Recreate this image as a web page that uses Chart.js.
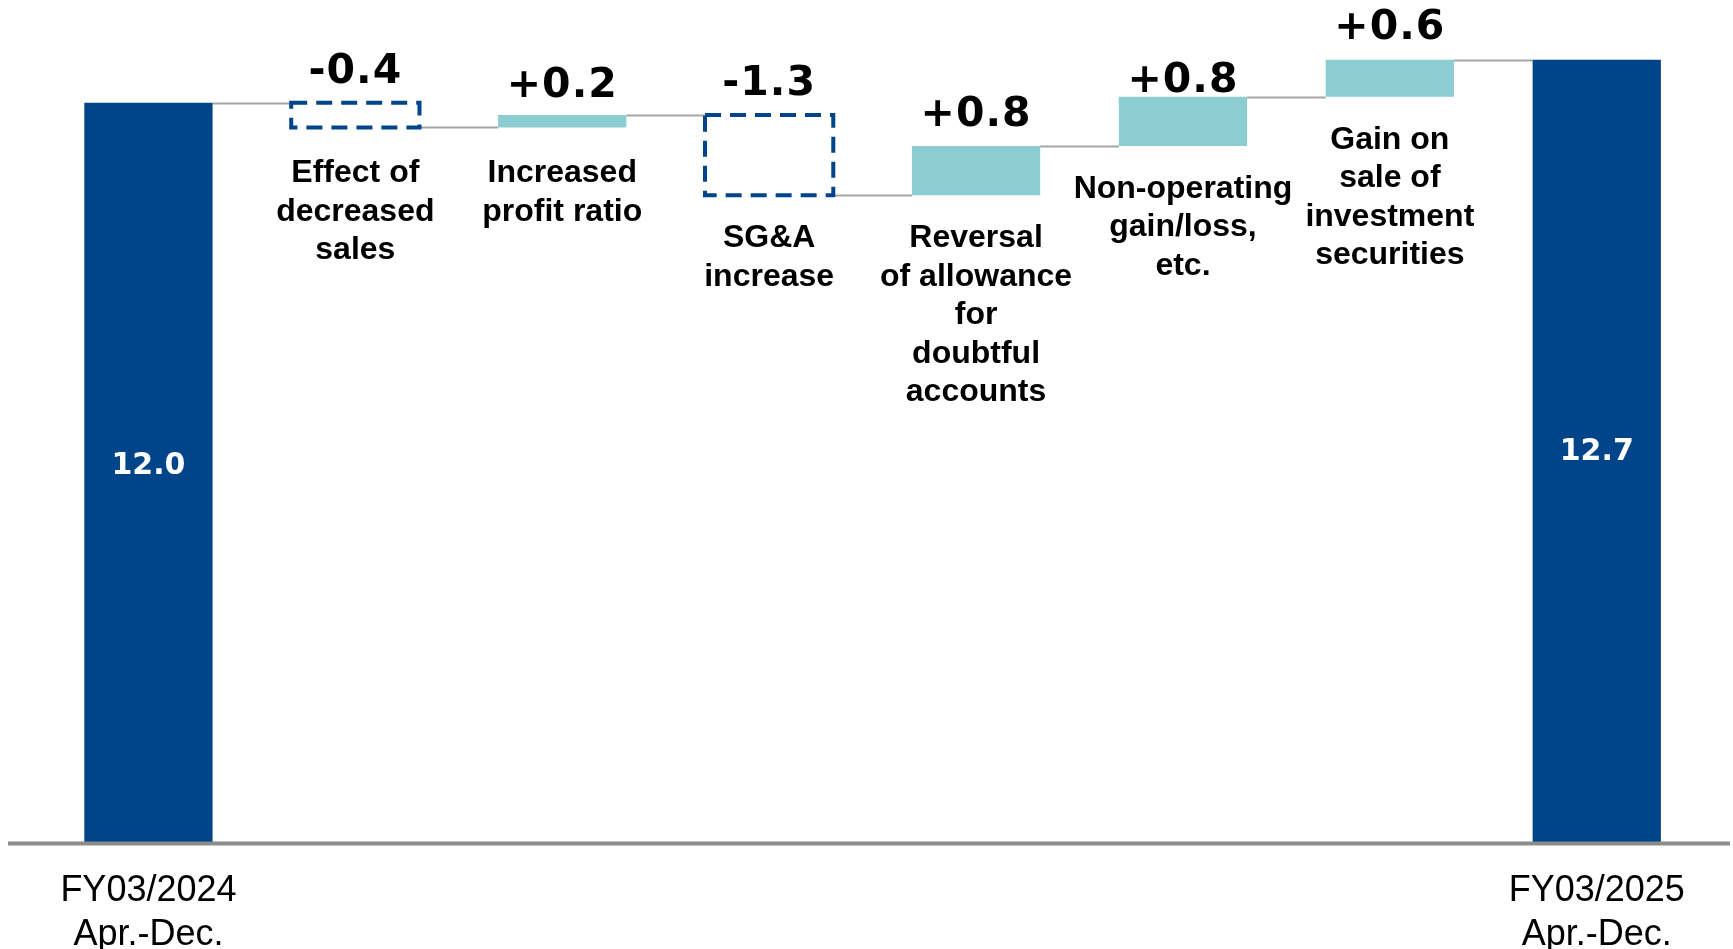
<!DOCTYPE html>
<html>
<head>
<meta charset="utf-8">
<script src="https://cdn.jsdelivr.net/npm/chart.js@4.4.1/dist/chart.umd.min.js"></script>
<style>
  html, body { margin: 0; padding: 0; background: #ffffff; }
  #wrap { width: 1733px; height: 949px; }
</style>
</head>
<body>
<div id="wrap"><canvas id="bridge" width="1733" height="949"></canvas></div>
<script>
// Categories of the profit bridge (multi-line labels)
const categories = [
  ['FY03/2024', 'Apr.-Dec.'],
  ['Effect of', 'decreased', 'sales'],
  ['Increased', 'profit ratio'],
  ['SG&A', 'increase'],
  ['Reversal', 'of allowance', 'for', 'doubtful', 'accounts'],
  ['Non-operating', 'gain/loss,', 'etc.'],
  ['Gain on', 'sale of', 'investment', 'securities'],
  ['FY03/2025', 'Apr.-Dec.']
];

// Opening and closing totals
const startTotal = 12.0;
const endTotal = 12.7;

// Changes between the two totals
const steps = [-0.4, 0.2, -1.3, 0.8, 0.8, 0.6];

// Colours and text styling
const NAVY = '#00458A';
const TEAL = '#8BCDD1';
const CONNECTOR = '#a6a6a6';
const AXIS_GREY = '#8c8c8c';
// distance between each change label and the top of its bar
const valueLabelLift = [20, 18, 20, 20, 5, 21];
// extra space between a bar and the description under it
const noteDrop = [3, 3, 0, 0, 0, 0];
// how far each total label sits above the middle of its bar
const totalLabelLift = { first: 6, last: -1 };

// Floating ranges: totals from zero, steps from the running total
const ranges = [];
const levels = []; // running total after each bar
let running = startTotal;
ranges.push([0, startTotal]);
levels.push(startTotal);
steps.forEach(d => {
  const next = Math.round((running + d) * 10) / 10;
  ranges.push([running, next]);
  levels.push(next);
  running = next;
});
ranges.push([0, endTotal]);
levels.push(endTotal);

const lastIdx = categories.length - 1;
const isTotal = i => i === 0 || i === lastIdx;

const barColors = ranges.map((r, i) => {
  if (isTotal(i)) return NAVY;
  return steps[i - 1] >= 0 ? TEAL : 'rgba(0,0,0,0)';
});

const bridgePlugin = {
  id: 'bridgeDecor',
  beforeDatasetsDraw(chart) {
    const ctx = chart.ctx;
    const meta = chart.getDatasetMeta(0);
    const ys = chart.scales.y;
    ctx.save();
    // connectors between neighbouring bars
    ctx.strokeStyle = CONNECTOR;
    ctx.lineWidth = 2;
    for (let i = 0; i < meta.data.length - 1; i++) {
      const a = meta.data[i], b = meta.data[i + 1];
      const y = Math.round(ys.getPixelForValue(levels[i])) + 0.5;
      ctx.beginPath();
      ctx.moveTo(a.x + a.width / 2, y);
      ctx.lineTo(b.x - b.width / 2, y);
      ctx.stroke();
    }
    ctx.restore();
  },
  afterDatasetsDraw(chart) {
    const ctx = chart.ctx;
    const meta = chart.getDatasetMeta(0);
    const ys = chart.scales.y;
    ctx.save();

    // baseline across the whole width
    const y0 = ys.getPixelForValue(0);
    ctx.strokeStyle = AXIS_GREY;
    ctx.lineWidth = 4;
    ctx.beginPath();
    ctx.moveTo(8, y0 + 1.5);
    ctx.lineTo(chart.width - 3, y0 + 1.5);
    ctx.stroke();

    meta.data.forEach((bar, i) => {
      const left = bar.x - bar.width / 2;
      const top = Math.min(bar.y, bar.base);
      const bottom = Math.max(bar.y, bar.base);

      if (isTotal(i)) {
        // total value inside the bar
        const lift = i === 0 ? totalLabelLift.first : totalLabelLift.last;
        ctx.fillStyle = '#ffffff';
        ctx.font = 'bold 30px "DejaVu Sans"';
        ctx.textAlign = 'center';
        ctx.textBaseline = 'middle';
        ctx.fillText(levels[i].toFixed(1), bar.x, (top + bottom) / 2 - lift);
        return;
      }

      const d = steps[i - 1];
      if (d < 0) {
        // decreases are outlined with a dashed box
        ctx.strokeStyle = NAVY;
        ctx.lineWidth = 4;
        ctx.setLineDash([16, 9]);
        ctx.strokeRect(left, top, bar.width, bottom - top);
        ctx.setLineDash([]);
      }

      // change value above the bar
      ctx.fillStyle = '#000000';
      ctx.font = 'bold 41px "DejaVu Sans"';
      ctx.letterSpacing = '1px';
      ctx.textAlign = 'center';
      ctx.textBaseline = 'alphabetic';
      const txt = (d > 0 ? '+' : '') + d.toFixed(1);
      ctx.fillText(txt, bar.x, top - valueLabelLift[i - 1]);
      ctx.letterSpacing = '0px';

      // description under the bar
      ctx.font = 'bold 32px "Liberation Sans", Arial, sans-serif';
      categories[i].forEach((line, k) => {
        ctx.fillText(line, bar.x, bottom + 52 + noteDrop[i - 1] + k * 38.5);
      });
    });
    ctx.restore();
  }
};

new Chart(document.getElementById('bridge'), {
  type: 'bar',
  data: {
    labels: categories,
    datasets: [{
      data: ranges,
      backgroundColor: barColors,
      borderWidth: 0,
      categoryPercentage: 1.0,
      barPercentage: 0.62
    }]
  },
  options: {
    responsive: false,
    devicePixelRatio: 1,
    animation: false,
    layout: { padding: { left: 45, right: 32.8, top: 10.4, bottom: 0 } },
    plugins: {
      legend: { display: false },
      tooltip: { enabled: false }
    },
    scales: {
      x: {
        offset: true,
        grid: { display: false, drawTicks: false },
        border: { display: false },
        ticks: {
          autoSkip: false,
          maxRotation: 0,
          padding: 27,
          color: '#000000',
          font: { family: '"Liberation Sans", Arial, sans-serif', size: 36, lineHeight: 1.22 },
          callback: (v, i) => isTotal(i) ? categories[i] : ''
        },
        afterFit: s => { s.height = 107; }
      },
      y: {
        display: false,
        min: 0,
        max: 13.5
      }
    }
  },
  plugins: [bridgePlugin]
});
</script>
</body>
</html>
